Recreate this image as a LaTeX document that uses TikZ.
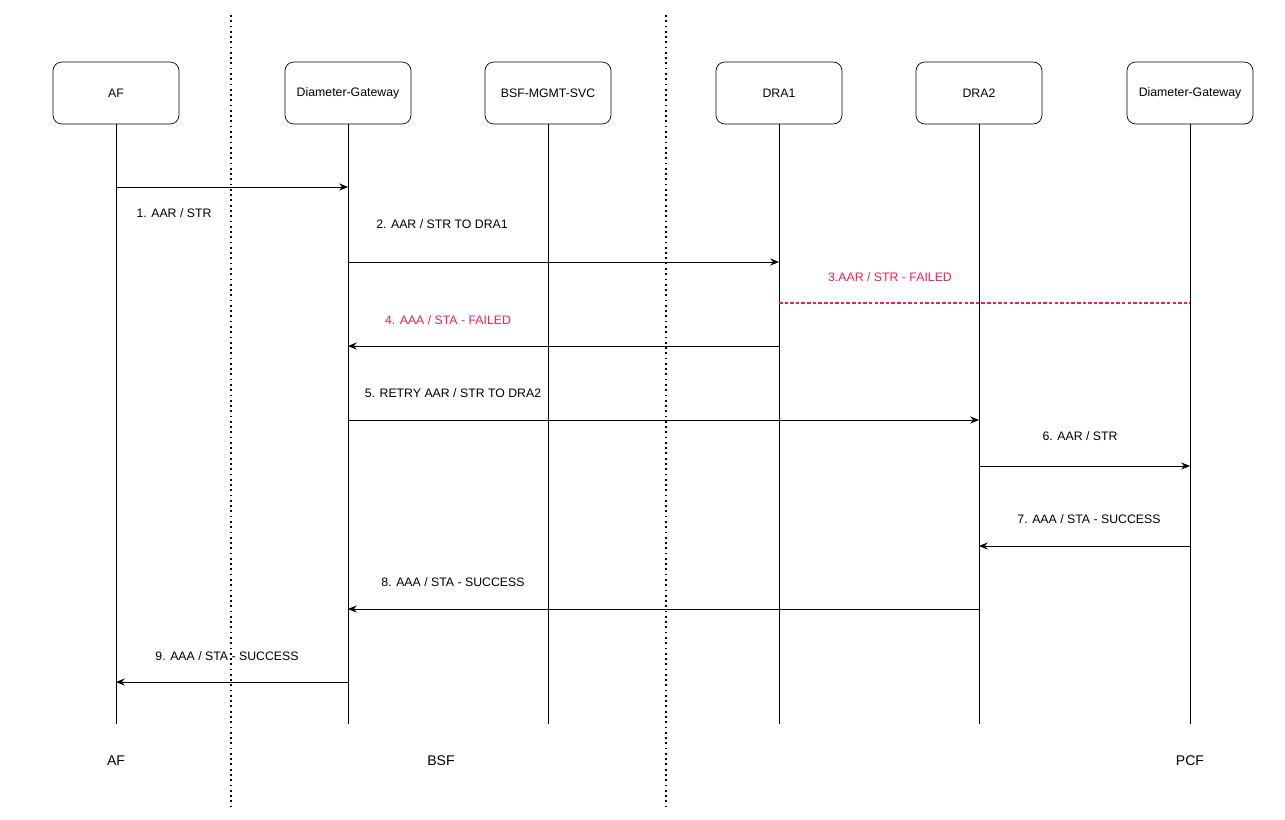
\documentclass[tikz,border=0pt]{standalone}
\usepackage{fontspec}
\setmainfont{Liberation Sans}
\usetikzlibrary{arrows.meta,positioning}
\definecolor{failred}{RGB}{240,30,90}

\begin{document}
\begin{tikzpicture}[x=0.02cm,y=-0.02cm,>={Stealth[length=5pt,width=4pt]},
	box/.style={draw,rounded corners=5pt,minimum width=2.52cm,minimum height=1.24cm,font=\fontsize{7}{8}\selectfont},
	msg/.style={font=\fontsize{7}{8}\selectfont},
	life/.style={line width=0.5pt}]

\useasboundingbox (0,0) rectangle (1285,819);

\draw[dotted,line width=1pt] (231,15)--(231,808);
\draw[dotted,line width=1pt] (666,15)--(666,808);

\node[box] (af) at (116,93) {AF};
\node[box] (dg) at (348,93) {Diameter-Gateway};
\node[box] (mgmt) at (548,93) {BSF-MGMT-SVC};
\node[box] (dra1) at (779,93) {DRA1};
\node[box] (dra2) at (979,93) {DRA2};
\node[box] (pcf) at (1190,93) {Diameter-Gateway};

\foreach \n/\x in {af/116,dg/348,mgmt/548,dra1/779,dra2/979,pcf/1190}{
	\coordinate (\n-end) at (\x,724);
	\draw[life] (\n.south)--(\n-end);
}

\foreach \n/\x in {af/116,dg/348,dra1/779,dra2/979,pcf/1190}{
	\foreach \y in {187,262,303,346,420,466,546,609,682}{
		\coordinate (\n-\y) at (\x,\y);
	}
}

% messages
\draw[->] (af-187)--(dg-187);
\node[msg] (m1) at (174,213) {1. AAR / STR};
\draw[->] (dg-262)--(dra1-262);
\node[msg] (m2) at (442,224) {2. AAR / STR TO DRA1};
\draw[draw=failred,line width=0.6pt,dash pattern=on 2pt off 1.2pt] (dra1-303)--(pcf-303);
\node[msg,text=failred] (m3) at (890,277) {3.AAR / STR - FAILED};
\draw[->] (dra1-346)--(dg-346);
\node[msg,text=failred] (m4) at (448,320) {4. AAA / STA - FAILED};
\draw[->] (dg-420)--(dra2-420);
\node[msg] (m5) at (453,393) {5. RETRY AAR / STR TO DRA2};
\draw[->] (dra2-466)--(pcf-466);
\node[msg] (m6) at (1080,436) {6. AAR / STR};
\draw[->] (pcf-546)--(dra2-546);
\node[msg] (m7) at (1089,519) {7. AAA / STA - SUCCESS};
\draw[->] (dra2-609)--(dg-609);
\node[msg] (m8) at (453,582) {8. AAA / STA - SUCCESS};
\draw[->] (dg-682)--(af-682);
\node[msg] (m9) at (227,656) {9. AAA / STA - SUCCESS};

\node[msg,font=\fontsize{8}{9}\selectfont] (laf) at (116,761) {AF};
\node[msg,font=\fontsize{8}{9}\selectfont] (lbsf) at (441,761) {BSF};
\node[msg,font=\fontsize{8}{9}\selectfont] (lpcf) at (1190,761) {PCF};

\end{tikzpicture}
\end{document}
